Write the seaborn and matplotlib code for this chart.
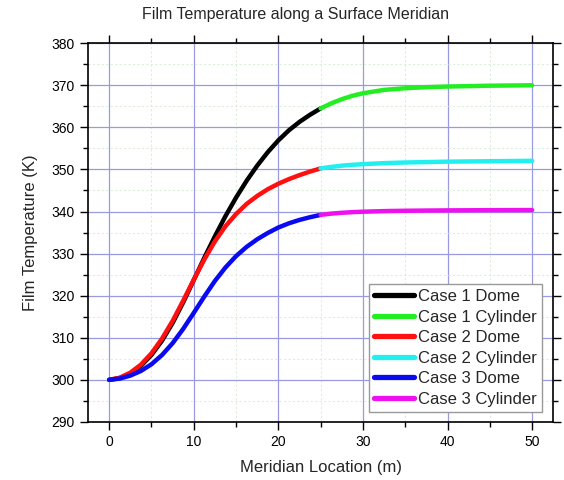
import matplotlib
matplotlib.use("Agg")
import matplotlib.pyplot as plt
import seaborn as sns
import pandas as pd
from matplotlib.ticker import MultipleLocator

# ---- data ----
dome_x = [0, 1.25, 2.5, 3.75, 5, 6.25, 7.5, 8.75, 10, 11.25, 12.5, 13.75, 15,
          16.25, 17.5, 18.75, 20, 21.25, 22.5, 23.75, 25]
case1_dome = [300.0, 300.4, 301.5, 303.3, 305.9, 309.3, 313.5, 318.4, 323.7, 329.0,
              334.1, 338.9, 343.3, 347.3, 350.9, 354.1, 356.9, 359.3, 361.3, 363.0, 364.5]
case2_dome = [300.0, 300.5, 301.7, 303.6, 306.3, 309.8, 314.0, 318.8, 323.8, 328.6,
              332.9, 336.5, 339.4, 341.8, 343.7, 345.3, 346.6, 347.7, 348.65, 349.5, 350.25]
case3_dome = [300.0, 300.3, 301.0, 302.1, 303.7, 305.9, 308.7, 312.1, 315.9, 319.8,
              323.5, 326.7, 329.4, 331.6, 333.4, 334.9, 336.2, 337.2, 338.0, 338.65, 339.2]

cyl_x = [25, 26.25, 27.5, 28.75, 30, 32.5, 35, 37.5, 40, 45, 50]
case1_cyl = [364.5, 365.7, 366.7, 367.5, 368.1, 368.9, 369.3, 369.55, 369.7, 369.9, 370.0]
case2_cyl = [350.25, 350.6, 350.9, 351.1, 351.25, 351.5, 351.65, 351.75, 351.85, 351.95, 352.05]
case3_cyl = [339.2, 339.5, 339.7, 339.85, 339.95, 340.1, 340.18, 340.23, 340.27, 340.32, 340.35]

series_names = ["Case 1 Dome", "Case 1 Cylinder", "Case 2 Dome",
                "Case 2 Cylinder", "Case 3 Dome", "Case 3 Cylinder"]
series_colors = ["#000000", "#22ee22", "#ff1010", "#22f0f0", "#0a0af0", "#ee10ee"]

frames = []
for name, xs, ys in [
    ("Case 1 Dome", dome_x, case1_dome),
    ("Case 1 Cylinder", cyl_x, case1_cyl),
    ("Case 2 Dome", dome_x, case2_dome),
    ("Case 2 Cylinder", cyl_x, case2_cyl),
    ("Case 3 Dome", dome_x, case3_dome),
    ("Case 3 Cylinder", cyl_x, case3_cyl),
]:
    frames.append(pd.DataFrame({"x": xs, "y": ys, "series": name}))
df = pd.concat(frames, ignore_index=True)

sns.set_style("white")
plt.rcParams["font.family"] = ["Liberation Sans", "DejaVu Sans"]

fig = plt.figure(figsize=(5.64, 4.8), dpi=100)
ax = fig.add_axes([0.156, 0.121, 0.825, 0.789])

ax.set_xlim(-2.5, 52.5)
ax.set_ylim(290, 380)
ax.xaxis.set_major_locator(MultipleLocator(10))
ax.xaxis.set_minor_locator(MultipleLocator(5))
ax.yaxis.set_major_locator(MultipleLocator(10))
ax.yaxis.set_minor_locator(MultipleLocator(5))

ax.grid(True, which="major", color="#9a9ae0", linewidth=0.9, zorder=0)
ax.grid(True, which="minor", color="#dcefdc", linewidth=0.8, linestyle=(0, (2, 2)), zorder=0)
ax.set_axisbelow(True)

sns.lineplot(data=df, x="x", y="y", hue="series", hue_order=series_names,
             palette=dict(zip(series_names, series_colors)), linewidth=3.2,
             sort=False, estimator=None, ax=ax)
for ln in ax.get_lines():
    ln.set_solid_joinstyle("round")

for s in ax.spines.values():
    s.set_visible(True)
    s.set_color("black")
    s.set_linewidth(1.2)

ax.tick_params(which="both", direction="out", top=True, right=True,
               bottom=True, left=True, labeltop=False, labelright=False,
               labelsize=10, colors="black")
ax.tick_params(which="major", length=6, width=1)
ax.tick_params(which="minor", length=3.5, width=1)

ax.set_xlabel("Meridian Location (m)", fontsize=12, labelpad=8)
ax.set_ylabel("Film Temperature (K)", fontsize=12, labelpad=10)
fig.text(295 / 564, 1 - 15 / 480, "Film Temperature along a Surface Meridian",
         ha="center", va="center", fontsize=11.5)

handles, labels = ax.get_legend_handles_labels()
leg = ax.legend(handles, labels, loc="lower right", bbox_to_anchor=(0.975, 0.027),
                borderaxespad=0, fontsize=12, labelspacing=0.33,
                handlelength=2.4, handletextpad=0.25, borderpad=0.3,
                fancybox=False, framealpha=1, edgecolor="#999999")
leg.get_frame().set_linewidth(1.0)
for h in leg.get_lines():
    h.set_linewidth(3.8)

fig.savefig("out.png", dpi=100)
